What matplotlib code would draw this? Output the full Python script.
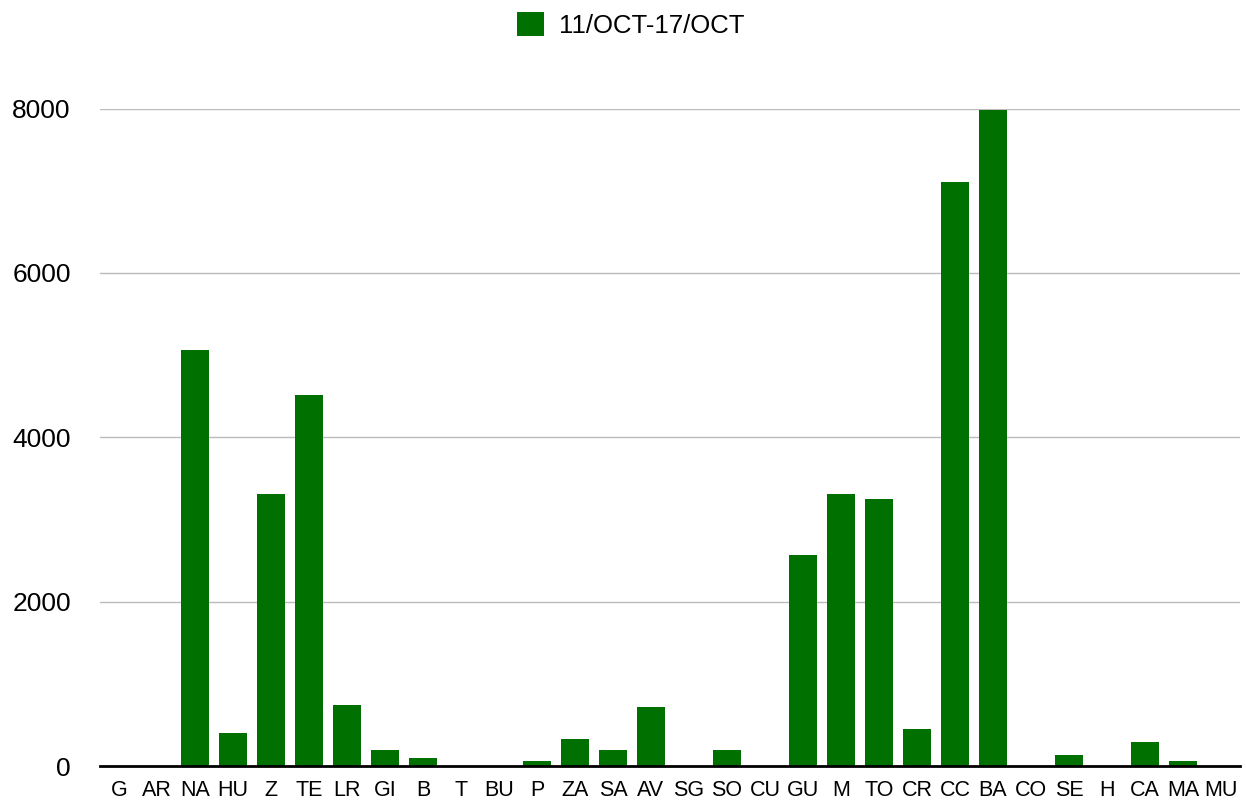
import matplotlib
matplotlib.use("Agg")
import matplotlib.pyplot as plt

categories = ["G", "AR", "NA", "HU", "Z", "TE", "LR", "GI", "B", "T", "BU", "P", "ZA", "SA", "AV",
              "SG", "SO", "CU", "GU", "M", "TO", "CR", "CC", "BA", "CO", "SE", "H", "CA", "MA", "MU"]
values = [0, 0, 5060, 400, 3310, 4510, 740, 195, 100, 0, 0, 55, 330, 195, 718,
          0, 195, 0, 2570, 3310, 3250, 450, 7110, 7980, 0, 135, 0, 290, 55, 0]
series_name = "11/OCT-17/OCT"
yticks = [0, 2000, 4000, 6000, 8000]

plt.rcParams['font.family'] = ['Liberation Sans', 'DejaVu Sans']

W, H = 1246, 801
fig = plt.figure(figsize=(W / 100, H / 100), dpi=100)
left, right = 100 / W, 1240 / W
bottom = (H - 766) / H
top = (H - 108.5) / H
ax = fig.add_axes([left, bottom, right - left, top - bottom])

color = "#007000"
x = list(range(len(categories)))
bars = ax.bar(x, values, width=0.74, color=color, label=series_name, zorder=3)

ax.set_xlim(-0.5, len(categories) - 0.5)
ax.set_ylim(0, 8000)
ax.set_yticks(yticks)
ax.set_yticklabels([str(v) for v in yticks], fontsize=19)
ax.set_xticks(x)
ax.set_xticklabels(categories, fontsize=15.5)
ax.tick_params(axis='y', length=0, pad=21)
ax.tick_params(axis='x', length=0, pad=10)
ax.grid(axis='y', color='#bbbbbb', linewidth=1.0, zorder=0)
for s in ['top', 'right', 'left']:
    ax.spines[s].set_visible(False)
ax.spines['bottom'].set_color('black')
ax.spines['bottom'].set_linewidth(2.0)
ax.spines['bottom'].set_zorder(4)
ax.spines['bottom'].set_clip_on(False)

fig.legend(handles=[bars], labels=[series_name], loc='center',
           bbox_to_anchor=(0.506, 1 - 25 / H), frameon=False, fontsize=18.5,
           handlelength=1.05, handleheight=1.05, handletextpad=0.6)

fig.savefig("out.png", dpi=100)
